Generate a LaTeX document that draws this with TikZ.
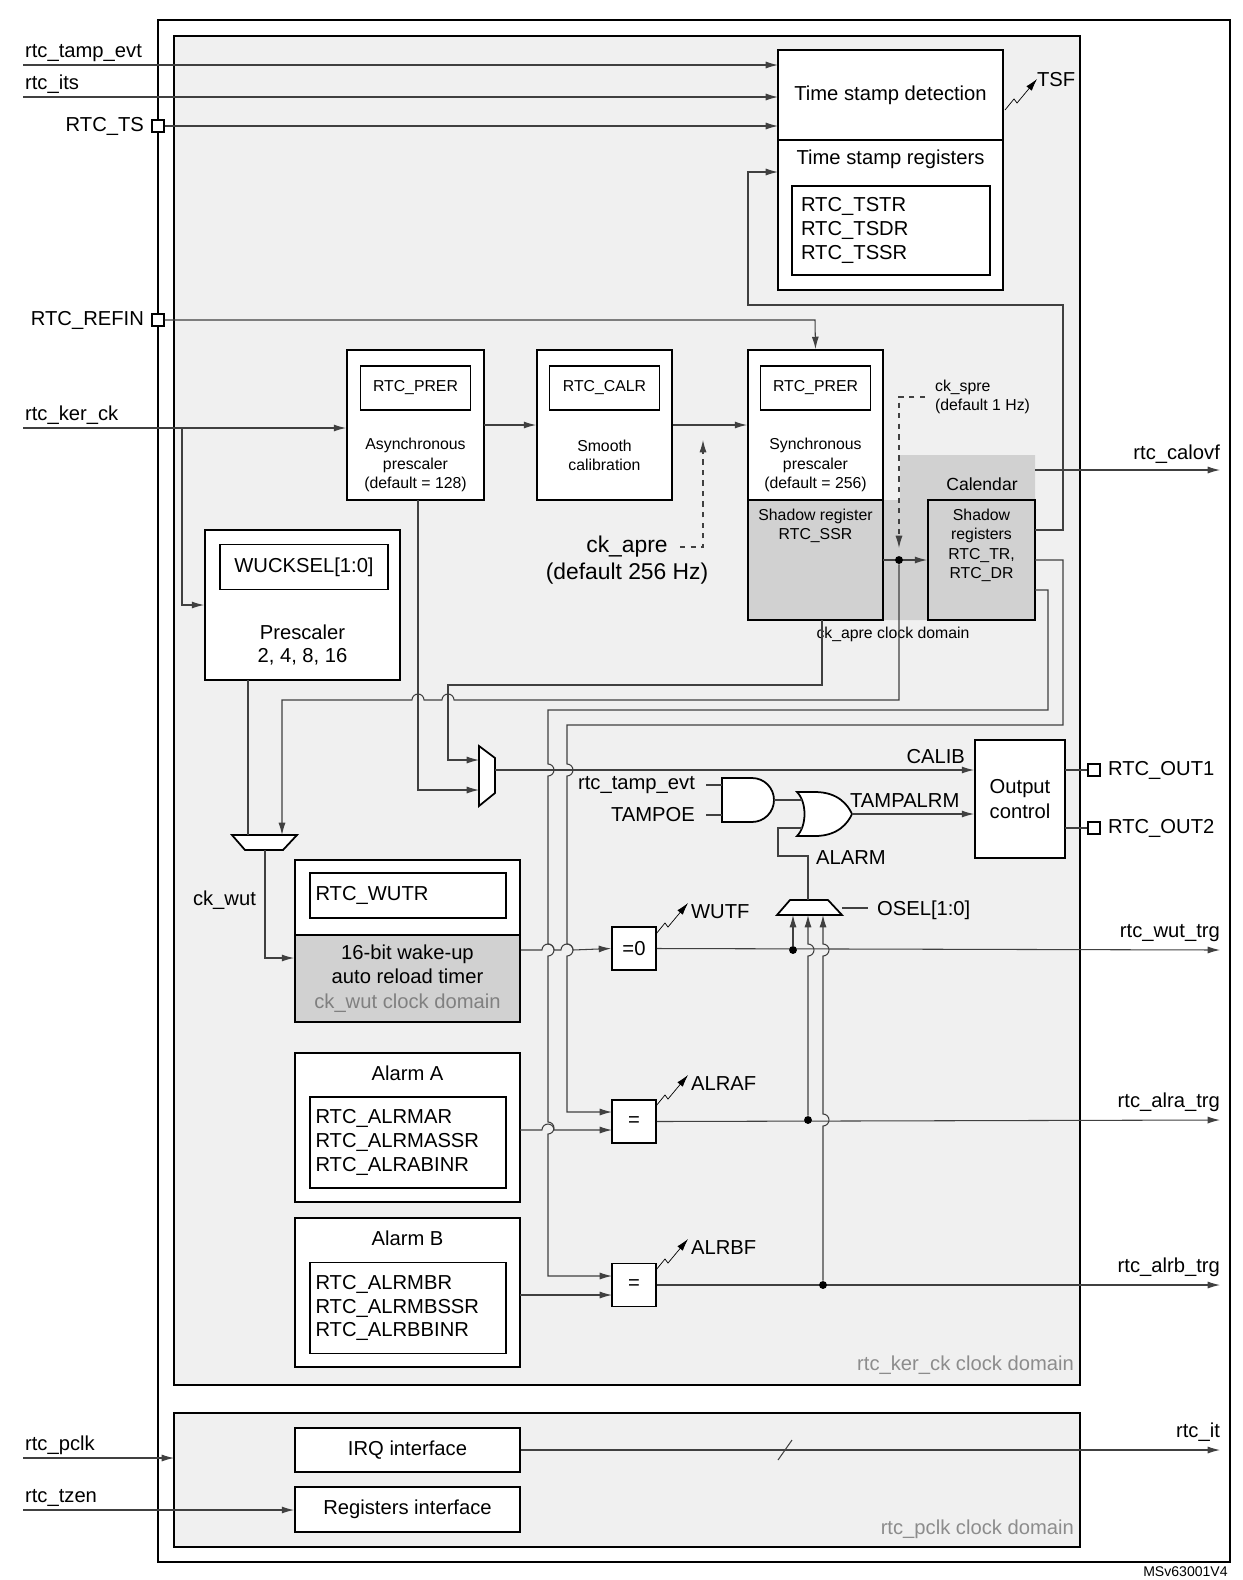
\documentclass[tikz,border=0pt]{standalone}
\usepackage{fontspec}
\setmainfont{Liberation Sans}
\usetikzlibrary{positioning,arrows.meta}
\newcommand\zap[1]{\draw[-{Latex[length=7pt,width=4pt]}] (#1) -- ++(9,-11) -- ++(3,4) -- ++(20,-24);}
\begin{document}
\begin{tikzpicture}[
        x=0.02cm, y=-0.02cm,
        >={Latex[length=7pt,width=4pt]},
        wire/.style={draw=black!75, line width=0.6pt},
        lbl/.style={font=\fontsize{11.5}{13.5}\selectfont, inner sep=1pt},
        sml/.style={font=\fontsize{9}{11}\selectfont, inner sep=1pt, align=center},
        blk/.style={draw, line width=1.1pt, fill=white, inner sep=0pt},
        regbox/.style={draw, line width=1pt, fill=white, inner sep=0pt, font=\fontsize{9}{11}\selectfont},
        pin/.style={draw, line width=0.8pt, fill=white, minimum size=0.24cm, inner sep=0pt},
        dot/.style={circle, fill=black, minimum size=4.5pt, inner sep=0pt},
        gatef/.style={draw, line width=1pt, fill=white},
    ]
    \useasboundingbox (0,0) rectangle (1242,1580);

    % frames
    \draw[line width=1.1pt] (158,20) rectangle (1230,1562);
    \draw[line width=1.1pt, fill=black!6] (174,36) rectangle (1080,1385);
    \draw[line width=1.1pt, fill=black!6] (174,1413) rectangle (1080,1547);
    \node[lbl, text=black!45, anchor=south east] at (1076,1377) {rtc\_ker\_ck clock domain};
    \node[lbl, text=black!45, anchor=south east] at (1076,1541) {rtc\_pclk clock domain};
    \node[font=\fontsize{8}{9}\selectfont, anchor=north east, inner sep=0pt] at (1228,1566) {MSv63001V4};

    % calendar area
    \fill[black!18] (883,500) -- (900,500) -- (900,455) -- (1035,455) -- (1035,620) -- (883,620) -- cycle;
    \node[sml, font=\fontsize{10}{12}\selectfont] at (982,484) {Calendar};

    % time stamp
    \node[blk, minimum width=4.5cm, minimum height=1.8cm, font=\fontsize{11.5}{13.5}\selectfont] (tsdet) at (890.5,95) {Time stamp detection};
    \node[blk, minimum width=4.5cm, minimum height=3.0cm] (tsreg) at (890.5,215) {};
    \node[lbl, anchor=north] at (890.5,148) {Time stamp registers};
    \node[regbox, minimum width=3.96cm, minimum height=1.78cm, align=left, text width=3.6cm, font=\fontsize{11.5}{13.5}\selectfont] (tsr) at (891,230.5) {RTC\_TSTR\\RTC\_TSDR\\RTC\_TSSR};
    \zap{1005,110}
    \node[lbl, anchor=west] at (1035,80) {TSF};

    % prescalers
    \node[blk, minimum width=2.74cm, minimum height=3.0cm] (async) at (415.5,425) {};
    \node[regbox, minimum width=2.2cm, minimum height=0.88cm] (prera) at (415.5,388) {RTC\_PRER};
    \node[sml] at (415.5,465) {Asynchronous\\prescaler\\(default = 128)};
    \node[blk, minimum width=2.7cm, minimum height=3.0cm] (smooth) at (604.5,425) {};
    \node[regbox, minimum width=2.2cm, minimum height=0.88cm] (calr) at (604.5,388) {RTC\_CALR};
    \node[sml] at (604.5,455) {Smooth\\calibration};
    \node[blk, minimum width=2.7cm, minimum height=3.0cm] (sync) at (815.5,425) {};
    \node[regbox, minimum width=2.2cm, minimum height=0.88cm] (prers) at (815.5,388) {RTC\_PRER};
    \node[sml] at (815.5,465) {Synchronous\\prescaler\\(default = 256)};
    \node[blk, fill=black!18, minimum width=2.7cm, minimum height=2.4cm] (ssr) at (815.5,560) {};
    \node[sml, anchor=north] at (815.5,507) {Shadow register\\RTC\_SSR};
    \node[blk, fill=black!18, minimum width=2.14cm, minimum height=2.4cm] (cal) at (981.5,560) {};
    \node[sml, anchor=north] at (981.5,507) {Shadow\\registers\\RTC\_TR,\\RTC\_DR};
    \node[sml] at (893,634) {ck\_apre clock domain};

    % wake-up
    \node[blk, minimum width=3.9cm, minimum height=3.0cm] (wpre) at (302.5,605) {};
    \node[regbox, minimum width=3.36cm, minimum height=0.9cm, font=\fontsize{11.5}{13.5}\selectfont] (wucksel) at (304,567) {WUCKSEL[1:0]};
    \node[lbl, align=center] at (302.5,645) {Prescaler\\2, 4, 8, 16};
    \node[blk, minimum width=4.5cm, minimum height=1.5cm] (wutb) at (407.5,897.5) {};
    \node[regbox, minimum width=3.92cm, minimum height=0.9cm, text width=3.7cm, align=left, font=\fontsize{11.5}{13.5}\selectfont] (wutr) at (408,895.5) {RTC\_WUTR};
    \node[blk, fill=black!18, minimum width=4.5cm, minimum height=1.74cm, align=center, font=\fontsize{11.5}{14}\selectfont] (wut) at (407.5,978.5) {16-bit wake-up\\auto reload timer\\\textcolor{black!50}{ck\_wut clock domain}};

    % alarms
    \node[blk, minimum width=4.5cm, minimum height=2.98cm] (alra) at (407.5,1127.5) {};
    \node[lbl] at (407.5,1073) {Alarm A};
    \node[regbox, minimum width=3.92cm, minimum height=1.82cm, text width=3.7cm, align=left, font=\fontsize{11.5}{13.5}\selectfont] at (408,1142.5) {RTC\_ALRMAR\\RTC\_ALRMASSR\\RTC\_ALRABINR};
    \node[blk, minimum width=4.5cm, minimum height=2.98cm] (alrb) at (407.5,1292.5) {};
    \node[lbl] at (407.5,1238) {Alarm B};
    \node[regbox, minimum width=3.92cm, minimum height=1.82cm, text width=3.7cm, align=left, font=\fontsize{11.5}{13.5}\selectfont] at (408,1308) {RTC\_ALRMBR\\RTC\_ALRMBSSR\\RTC\_ALRBBINR};

    % compare blocks
    \node[blk, minimum width=0.88cm, minimum height=0.86cm, font=\fontsize{11.5}{13.5}\selectfont] (eqw) at (634,948.5) {=0};
    \node[blk, minimum width=0.88cm, minimum height=0.86cm, font=\fontsize{11.5}{13.5}\selectfont] (eqa) at (634,1121.5) {=};
    \node[blk, minimum width=0.88cm, minimum height=0.86cm, font=\fontsize{11.5}{13.5}\selectfont] (eqb) at (634,1285) {=};
    \zap{656,934}
    \node[lbl, anchor=west] at (689,912) {WUTF};
    \zap{656,1106}
    \node[lbl, anchor=west] at (689,1084) {ALRAF};
    \zap{656,1270}
    \node[lbl, anchor=west] at (689,1248) {ALRBF};

    % output control
    \node[blk, minimum width=1.8cm, minimum height=2.36cm, align=center, font=\fontsize{11.5}{14}\selectfont] (outc) at (1020,799) {Output\\control};

    % interfaces
    \node[blk, minimum width=4.5cm, minimum height=0.88cm, font=\fontsize{11.5}{13.5}\selectfont] (irq) at (407.5,1450) {IRQ interface};
    \node[blk, minimum width=4.5cm, minimum height=0.9cm, font=\fontsize{11.5}{13.5}\selectfont] (regif) at (407.5,1509.5) {Registers interface};

    % muxes and gates
    \draw[gatef] (232,835) -- (297,835) -- (283,850) -- (245,850) -- cycle;
    \coordinate (wmux) at (265,850);
    \draw[gatef] (479,746) -- (495,758) -- (495,793) -- (479,806) -- cycle;
    \coordinate (cmux) at (495,770);
    \draw[gatef] (790,900) -- (828,900) -- (842,915) -- (777,915) -- cycle;
    \coordinate (omux) at (808,900);
    \draw[gatef] (722,778) -- (752,778) arc[start angle=90, end angle=-90, radius=0.44cm] -- (722,822) -- cycle;
    \draw[gatef] (797,792) -- (815,792) .. controls (838,792) and (848,805) .. (852,814)
        .. controls (848,823) and (838,836) .. (815,836) -- (797,836)
        .. controls (807,826) and (807,802) .. (797,792) -- cycle;
    \coordinate (andout) at (774,800);
    \coordinate (orout) at (852,814);

    % pins
    \node[pin] (tspin) at (158,126) {};
    \node[lbl, left=3pt of tspin] {RTC\_TS};
    \node[pin] (refpin) at (158,320) {};
    \node[lbl, left=3pt of refpin] {RTC\_REFIN};
    \node[pin] (out1) at (1094,770) {};
    \node[lbl, right=3pt of out1] {RTC\_OUT1};
    \node[pin] (out2) at (1094,828) {};
    \node[lbl, right=3pt of out2] {RTC\_OUT2};

    % input wires
    \draw[wire, ->] (23,65) -- (778,65);
    \node[lbl, anchor=south west] at (23,64) {rtc\_tamp\_evt};
    \draw[wire, ->] (23,97) -- (778,97);
    \node[lbl, anchor=south west] at (23,96) {rtc\_its};
    \draw[wire, ->] (tspin.east) -- (778,126);
    \draw[wire, ->] (refpin.east) -- (815,320) -- (sync.north);
    \draw[wire, ->] (23,428) -- (async.west |- 0,428);
    \node[lbl, anchor=south west] at (23,427) {rtc\_ker\_ck};
    \draw[wire, ->] (182,428) -- (182,605) -- (wpre.west |- 0,605);
    \draw[wire, ->] (484,425) -- (smooth.west);
    \draw[wire, ->] (smooth.east) -- (sync.west);
    \draw[wire, ->] (23,1458) -- (174,1458);
    \node[lbl, anchor=south west] at (23,1457) {rtc\_pclk};
    \draw[wire, ->] (23,1510) -- (regif.west |- 0,1510);
    \node[lbl, anchor=south west] at (23,1509) {rtc\_tzen};

    % dashed clocks
    \draw[wire, dashed, ->] (680,547) -- (703,547) -- (703,440);
    \node[lbl, align=center, font=\fontsize{13}{15}\selectfont] at (627,560) {ck\_apre\\(default 256 Hz)};
    \draw[wire, dashed, ->] (925,397) -- (899,397) -- (899,548);
    \node[sml, align=left, anchor=west] at (933,397) {ck\_spre\\(default 1 Hz)};

    % calendar and shadow wires
    \draw[wire, ->] (883,560) -- (cal.west);
    \node[dot] (cdot) at (899,560) {};
    \draw[wire, ->] (1035,530) -- (1063,530) -- (1063,305) -- (748,305) -- (748,172) -- (778,172);
    \draw[wire, ->] (1035,470) -- (1220,470);
    \node[lbl, anchor=south east] at (1222,466) {rtc\_calovf};
    \draw[wire, ->] (822,620) -- (822,685) -- (448,685) -- (448,760) -- (479,760);
    \draw[wire, ->] (cdot) -- (899,700) -- (454,700) arc[start angle=0, end angle=180, radius=0.12cm]
        -- (424,700) arc[start angle=0, end angle=180, radius=0.12cm] -- (282,700) -- (282,835);
    \draw[wire, ->] (418,500) -- (418,790) -- (479,790);
    \draw[wire] (248,680) -- (248,835);
    \draw[wire, ->] (wmux) -- (265,958) -- (wut.west |- 0,958);
    \node[lbl, anchor=east] at (258,900) {ck\_wut};
    \draw[wire, ->] (1035,590) -- (1048,590) -- (1048,710) -- (548,710) -- (548,764)
        arc[start angle=90, end angle=-90, radius=0.12cm] -- (548,944)
        arc[start angle=90, end angle=-90, radius=0.12cm] -- (548,1122)
        arc[start angle=90, end angle=-90, radius=0.12cm] -- (548,1276) -- (612,1276);
    \draw[wire, ->] (1035,560) -- (1063,560) -- (1063,725) -- (567,725) -- (567,764)
        arc[start angle=90, end angle=-90, radius=0.12cm] -- (567,944)
        arc[start angle=90, end angle=-90, radius=0.12cm] -- (567,1112) -- (612,1112);

    % output wires
    \draw[wire, ->] (cmux) -- (outc.west |- 0,770);
    \node[lbl, anchor=south east] at (967,766) {CALIB};
    \draw[wire] (706,785) -- (722,785);
    \node[lbl, anchor=east] at (697,785) {rtc\_tamp\_evt};
    \draw[wire] (706,815) -- (722,815);
    \node[lbl, anchor=east] at (697,815) {TAMPOE};
    \draw[wire] (andout) -- (802,800);
    \draw[wire, ->] (orout) -- (outc.west |- 0,814);
    \node[lbl, anchor=south west] at (848,810) {TAMPALRM};
    \draw[wire] (omux) -- (808,856) -- (778,856) -- (778,828) -- (802,828);
    \node[lbl, anchor=west] at (814,858) {ALARM};
    \draw[wire] (842,908) -- (868,908);
    \node[lbl, anchor=west] at (875,910) {OSEL[1:0]};
    \draw[wire] (1065,770) -- (out1.west);
    \draw[wire] (1065,828) -- (out2.west);

    \draw[wire, ->] (wut.east |- 0,950) -- (542,950) arc[start angle=180, end angle=0, radius=0.12cm]
        -- (561,950) arc[start angle=180, end angle=0, radius=0.12cm] -- (eqw.west);
    \draw[wire, ->] (520,1130) -- (542,1130) arc[start angle=180, end angle=0, radius=0.12cm] -- (612,1130);
    \draw[wire, ->] (520,1295) -- (612,1295);
    \draw[wire, ->] (eqw.east) -- (1220,950);
    \node[lbl, anchor=south east] at (1222,944) {rtc\_wut\_trg};
    \draw[wire, ->] (eqa.east) -- (1220,1120);
    \node[lbl, anchor=south east] at (1222,1114) {rtc\_alra\_trg};
    \draw[wire, ->] (eqb.east) -- (1220,1285);
    \node[lbl, anchor=south east] at (1222,1279) {rtc\_alrb\_trg};
    \node[dot] (dw) at (793,950) {};
    \node[dot] (da) at (808,1120) {};
    \node[dot] (db) at (823,1285) {};
    \draw[wire, ->] (dw) -- (793,915);
    \draw[wire, ->] (da) -- (808,956) arc[start angle=-90, end angle=90, radius=0.12cm] -- (808,915);
    \draw[wire, ->] (db) -- (823,1126) arc[start angle=-90, end angle=90, radius=0.12cm]
        -- (823,956) arc[start angle=-90, end angle=90, radius=0.12cm] -- (823,915);
    \draw[wire, ->] (irq.east) -- (1220,1450);
    \draw[wire] (778,1460) -- (792,1440);
    \node[lbl, anchor=south east] at (1222,1444) {rtc\_it};
\end{tikzpicture}
\end{document}
